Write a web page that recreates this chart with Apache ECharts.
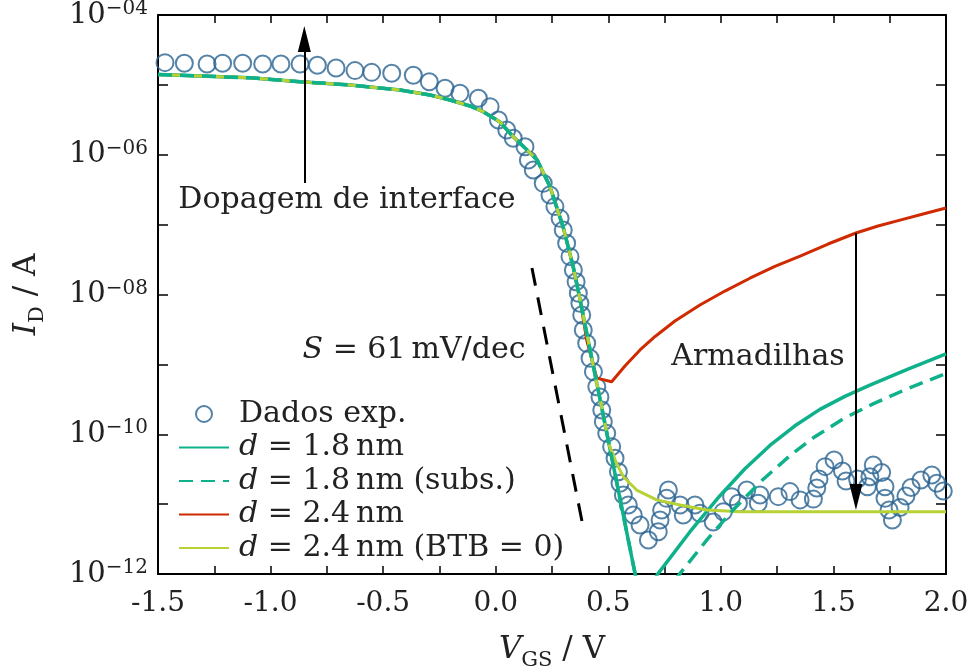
<!DOCTYPE html>
<html>
<head>
<meta charset="utf-8">
<script src="https://cdn.jsdelivr.net/npm/echarts@6/dist/echarts.min.js"></script>
<style>
html,body{margin:0;padding:0;background:#fff;}
#chart{width:973px;height:668px;}
</style>
</head>
<body>
<div id="chart"></div>
<script>
// Measured drain current I_D (A) versus gate voltage V_GS (V)
const expV = [-1.469,-1.383,-1.282,-1.213,-1.124,-1.035,-0.954,-0.869,-0.792,-0.709,-0.625,-0.551,-0.462,-0.366,-0.295,-0.225,-0.159,-0.077,-0.025,0.012,0.049,0.078,0.130,0.145,0.167,0.211,0.241,0.263,0.286,0.300,0.315,0.330,0.345,0.357,0.367,0.374,0.382,0.389,0.404,0.419,0.434,0.449,0.463,0.471,0.478,0.493,0.515,0.530,0.545,0.552,0.567,0.589,0.611,0.641,0.678,0.722,0.730,0.737,0.759,0.767,0.819,0.833,0.885,0.907,0.966,1.011,1.048,1.078,1.115,1.174,1.166,1.255,1.307,1.352,1.411,1.426,1.436,1.463,1.503,1.540,1.556,1.607,1.651,1.662,1.677,1.714,1.729,1.729,1.747,1.762,1.796,1.822,1.845,1.889,1.937,1.959,1.988];
const expI = [2.08e-5,2.04e-5,1.99e-5,2.04e-5,2.04e-5,1.99e-5,1.99e-5,1.99e-5,1.91e-5,1.74e-5,1.60e-5,1.51e-5,1.47e-5,1.37e-5,1.11e-5,8.93e-6,7.57e-6,6.43e-6,4.88e-6,3.14e-6,2.26e-6,1.72e-6,1.30e-6,8.41e-7,6.05e-7,3.90e-7,2.65e-7,1.81e-7,1.23e-7,8.38e-8,5.41e-8,3.48e-8,2.24e-8,1.52e-8,1.04e-8,7.48e-9,5.09e-9,3.10e-9,2.00e-9,1.22e-9,7.85e-10,4.79e-10,3.41e-10,2.22e-10,1.51e-10,1.03e-10,6.64e-11,4.53e-11,2.91e-11,1.99e-11,1.35e-11,9.71e-12,6.98e-12,5.02e-12,3.06e-12,4.03e-12,5.93e-12,8.24e-12,1.21e-11,1.59e-11,9.71e-12,6.98e-12,9.71e-12,7.40e-12,5.55e-12,7.80e-12,1.28e-11,1.03e-11,1.59e-11,1.35e-11,1.03e-11,1.28e-11,1.51e-11,1.15e-11,1.18e-11,1.70e-11,2.29e-11,3.44e-11,4.28e-11,2.98e-11,2.14e-11,2.29e-11,1.77e-11,2.47e-11,3.63e-11,2.84e-11,1.77e-11,1.21e-11,8.24e-12,5.93e-12,8.95e-12,1.31e-11,1.73e-11,2.21e-11,2.61e-11,1.99e-11,1.54e-11];

// On-state and upper subthreshold branch shared by all simulations
const onV = [-1.5,-1.313,-1.091,-0.869,-0.647,-0.425,-0.292,-0.203,-0.114,-0.056,0.019,0.077,0.130,0.184,0.241,0.299,0.344,0.375];
const onI = [1.41e-5,1.34e-5,1.26e-5,1.11e-5,9.98e-6,8.45e-6,7.18e-6,6.08e-6,4.99e-6,4.14e-6,2.94e-6,1.82e-6,1.25e-6,8.43e-7,3.50e-7,9.35e-8,2.51e-8,8.38e-9];

// Lower subthreshold slope, d = 1.8 nm (both variants)
const slopeV = [0.404,0.434,0.464,0.504,0.562,0.619];
const slopeI = [2.82e-9,9.29e-10,3.10e-10,7.05e-11,8.28e-12,1.01e-12];

// d = 1.8 nm: band-to-band tunnelling branch
const d18V = [0.644,0.722,0.863,0.996,1.107,1.218,1.329,1.440,1.551,1.662,1.831,2.0];
const d18I = [4.6e-13,1.02e-12,4.03e-12,1.32e-11,3.21e-11,6.92e-11,1.32e-10,2.27e-10,3.48e-10,5.05e-10,8.55e-10,1.41e-9];

// d = 1.8 nm (subs.)
const d18sV = [0.663,0.819,0.939,1.054,1.187,1.307,1.409,1.543,1.676,1.818,2.0];
const d18sI = [2.24e-13,1.02e-12,3.10e-12,8.24e-12,2.25e-11,4.94e-11,8.81e-11,1.66e-10,2.72e-10,4.33e-10,7.43e-10];

// d = 2.4 nm
const d24V = [0.404,0.449,0.515,0.574,0.641,0.708,0.796,0.907,1.018,1.129,1.240,1.352,1.476,1.600,1.698,1.796,1.898,2.0];
const d24I = [2.23e-9,6.35e-10,5.65e-10,9.48e-10,1.61e-9,2.51e-9,4.18e-9,7.08e-9,1.12e-8,1.71e-8,2.52e-8,3.55e-8,5.28e-8,7.59e-8,9.55e-8,1.16e-7,1.42e-7,1.73e-7];

// d = 2.4 nm with BTB = 0
const d24bV = [0.404,0.434,0.464,0.504,0.537,0.567,0.626,0.715,0.819,0.938,1.086,1.5,2.0];
const d24bI = [2.82e-9,9.29e-10,3.10e-10,7.05e-11,3.80e-11,2.47e-11,1.59e-11,1.15e-11,9.73e-12,8.24e-12,7.80e-12,7.80e-12,7.80e-12];

// Reference slope S = 61 mV/dec
const refV = [0.161,0.388];
const refI = [2.40e-8,4.73e-12];

// Annotation arrows: [V, I_start, I_end]
const arrowUp = [-0.85, 3.94e-7, 4.54e-5];
const arrowDown = [1.60, 7.59e-8, 1.26e-11];

// Tick labels
const xLabels = [-1.5,-1.0,-0.5,0.0,0.5,1.0,1.5,2.0];
const yLabelExps = [-4,-6,-8,-10,-12];

const names = ['Dados exp.','d = 1.8 nm','d = 1.8 nm (subs.)','d = 2.4 nm','d = 2.4 nm (BTB = 0)'];

const FONT = 'DejaVu Serif';
const TXT = '#222';
const C_EXP = '#2b6491';
const C_GREEN = '#0fb18b';
const C_RED = '#cf2a00';
const C_YEL = '#b6d234';

function pairs(v, i) { return v.map((x, k) => [x, i[k]]); }
function join() {
  const out = [];
  for (let k = 0; k < arguments.length; k += 2) out.push(...pairs(arguments[k], arguments[k + 1]));
  return out;
}

const chart = echarts.init(document.getElementById('chart'));

const xLabelFmt = v => {
  const hit = xLabels.find(x => Math.abs(x - v) < 1e-6);
  return hit === undefined ? '' : hit.toFixed(1);
};
const yLabelFmt = v => {
  const e = Math.round(Math.log10(v));
  if (!yLabelExps.includes(e)) return '';
  return '{b|10}{s|\u2212' + String(-e).padStart(2, '0') + '}';
};

const baseAxisLine = { show: true, onZero: false, lineStyle: { color: '#000', width: 2 } };
const tickStyle = { color: '#000', width: 1.5 };
const nameRich = {
  i: { fontStyle: 'italic', fontFamily: FONT, fontSize: 31, color: TXT },
  sub: { fontFamily: FONT, fontSize: 21, color: TXT, verticalAlign: 'bottom', padding: [0, 0, -6, 0] },
  n: { fontFamily: FONT, fontSize: 31, color: TXT }
};

// Legend entries: line models show only their stroke
const legendData = names.map((n, k) => k === 0 ? { name: n } : { name: n, itemStyle: { opacity: 0 } });

chart.setOption({
  animation: false,
  backgroundColor: '#fff',
  grid: { left: 158, right: 27, top: 15, bottom: 94, containLabel: false, outerBoundsMode: 'none' },
  xAxis: [
    {
      type: 'value', min: -1.5, max: 2.0, interval: 0.25, position: 'bottom',
      axisLine: baseAxisLine,
      axisTick: { inside: true, length: 8, lineStyle: tickStyle },
      axisLabel: { formatter: xLabelFmt, margin: 16, color: TXT, fontFamily: FONT, fontSize: 28, showMinLabel: true, showMaxLabel: true },
      splitLine: { show: false },
      name: '{i|V}{sub|GS}{n| / V}',
      nameLocation: 'middle', nameGap: 60,
      nameTextStyle: { color: TXT, fontFamily: FONT, fontSize: 31, rich: nameRich }
    },
    {
      type: 'value', min: -1.5, max: 2.0, interval: 0.25, position: 'top',
      axisLine: baseAxisLine,
      axisTick: { inside: true, length: 8, lineStyle: tickStyle },
      axisLabel: { show: false }, splitLine: { show: false }
    }
  ],
  yAxis: [
    {
      type: 'log', logBase: 10, min: 1e-12, max: 1e-4, splitNumber: 8, position: 'left',
      axisLine: baseAxisLine,
      axisTick: { inside: true, length: 10, lineStyle: tickStyle },
      axisLabel: {
        formatter: yLabelFmt, margin: 10, color: TXT,
        rich: {
          b: { fontFamily: FONT, fontSize: 29, color: TXT, lineHeight: 32 },
          s: { fontFamily: FONT, fontSize: 20, color: TXT, verticalAlign: 'top', lineHeight: 20 }
        }
      },
      splitLine: { show: false },
      minorTick: { show: false },
      name: '{i|I}{sub|D}{n| / A}',
      nameLocation: 'middle', nameGap: 116, nameRotate: 90,
      nameTextStyle: { color: TXT, fontFamily: FONT, fontSize: 31, rich: nameRich }
    },
    {
      type: 'log', logBase: 10, min: 1e-12, max: 1e-4, splitNumber: 8, position: 'right',
      axisLine: baseAxisLine,
      axisTick: { inside: true, length: 10, lineStyle: tickStyle },
      axisLabel: { show: false }, splitLine: { show: false }
    }
  ],
  legend: {
    orient: 'vertical', left: 173, top: 394,
    itemWidth: 50, itemHeight: 16, itemGap: 3.5,
    selectedMode: false,
    data: legendData,
    formatter: n => n.replace(/^d = /, '{i|d} = ').replace(/(\d) nm/, '$1\u2009nm'),
    textStyle: {
      color: TXT, fontFamily: FONT, fontSize: 30, lineHeight: 29, padding: [0, 0, 0, 5],
      rich: { i: { fontStyle: 'italic', fontFamily: FONT, fontSize: 30, color: TXT } }
    }
  },
  graphic: [
    { type: 'text', x: 347, y: 200, style: { text: 'Dopagem de interface', font: '30px "DejaVu Serif"', fill: TXT, align: 'center', verticalAlign: 'middle' } },
    { type: 'text', x: 414, y: 350, style: {
        text: '{i|S} = 61\u2009mV/dec', font: '30px "DejaVu Serif"', fill: TXT, align: 'center', verticalAlign: 'middle',
        rich: { i: { fontStyle: 'italic', fontFamily: FONT, fontSize: 30, fill: TXT } } } },
    { type: 'text', x: 758, y: 357, style: { text: 'Armadilhas', font: '30px "DejaVu Serif"', fill: TXT, align: 'center', verticalAlign: 'middle' } }
  ],
  series: [
    {
      name: names[0], type: 'scatter', data: pairs(expV, expI),
      symbol: 'circle', symbolSize: 17,
      itemStyle: { color: 'rgba(255,255,255,0)', borderColor: C_EXP, borderWidth: 2 },
      z: 2
    },
    {
      name: names[3], type: 'line', data: join(onV, onI, d24V, d24I),
      symbol: 'none', lineStyle: { color: C_RED, width: 3 }, itemStyle: { color: C_RED }, z: 3
    },
    {
      name: names[1], type: 'line', data: join(onV, onI, slopeV, slopeI, d18V, d18I),
      symbol: 'none', lineStyle: { color: C_GREEN, width: 3.5 }, itemStyle: { color: C_GREEN }, z: 3
    },
    {
      name: names[4], type: 'line', data: join(onV, onI, d24bV, d24bI),
      symbol: 'none', lineStyle: { color: C_YEL, width: 3 }, itemStyle: { color: C_YEL }, z: 3
    },
    {
      name: names[2], type: 'line', data: join(onV, onI, slopeV, slopeI, d18sV, d18sI),
      symbol: 'none', lineStyle: { color: C_GREEN, width: 3.5, type: [14, 8] }, itemStyle: { color: C_GREEN }, z: 3
    },
    {
      name: 'S', type: 'line', data: pairs(refV, refI),
      symbol: 'none', lineStyle: { color: '#000', width: 3, type: [18, 12] }, z: 4, silent: true
    },
    {
      name: 'arrows', type: 'line', data: [], silent: true, z: 5,
      markLine: {
        silent: true, animation: false,
        symbol: ['none', 'path://M5,0L10,20L0,20Z'], symbolSize: [13, 26],
        lineStyle: { color: '#000', width: 2, type: 'solid' },
        label: { show: false },
        emphasis: { disabled: true },
        data: [
          [{ coord: [arrowUp[0], arrowUp[1]] }, { coord: [arrowUp[0], arrowUp[2]] }],
          [{ coord: [arrowDown[0], arrowDown[1]] }, { coord: [arrowDown[0], arrowDown[2]] }]
        ]
      }
    }
  ]
});
</script>
</body>
</html>
